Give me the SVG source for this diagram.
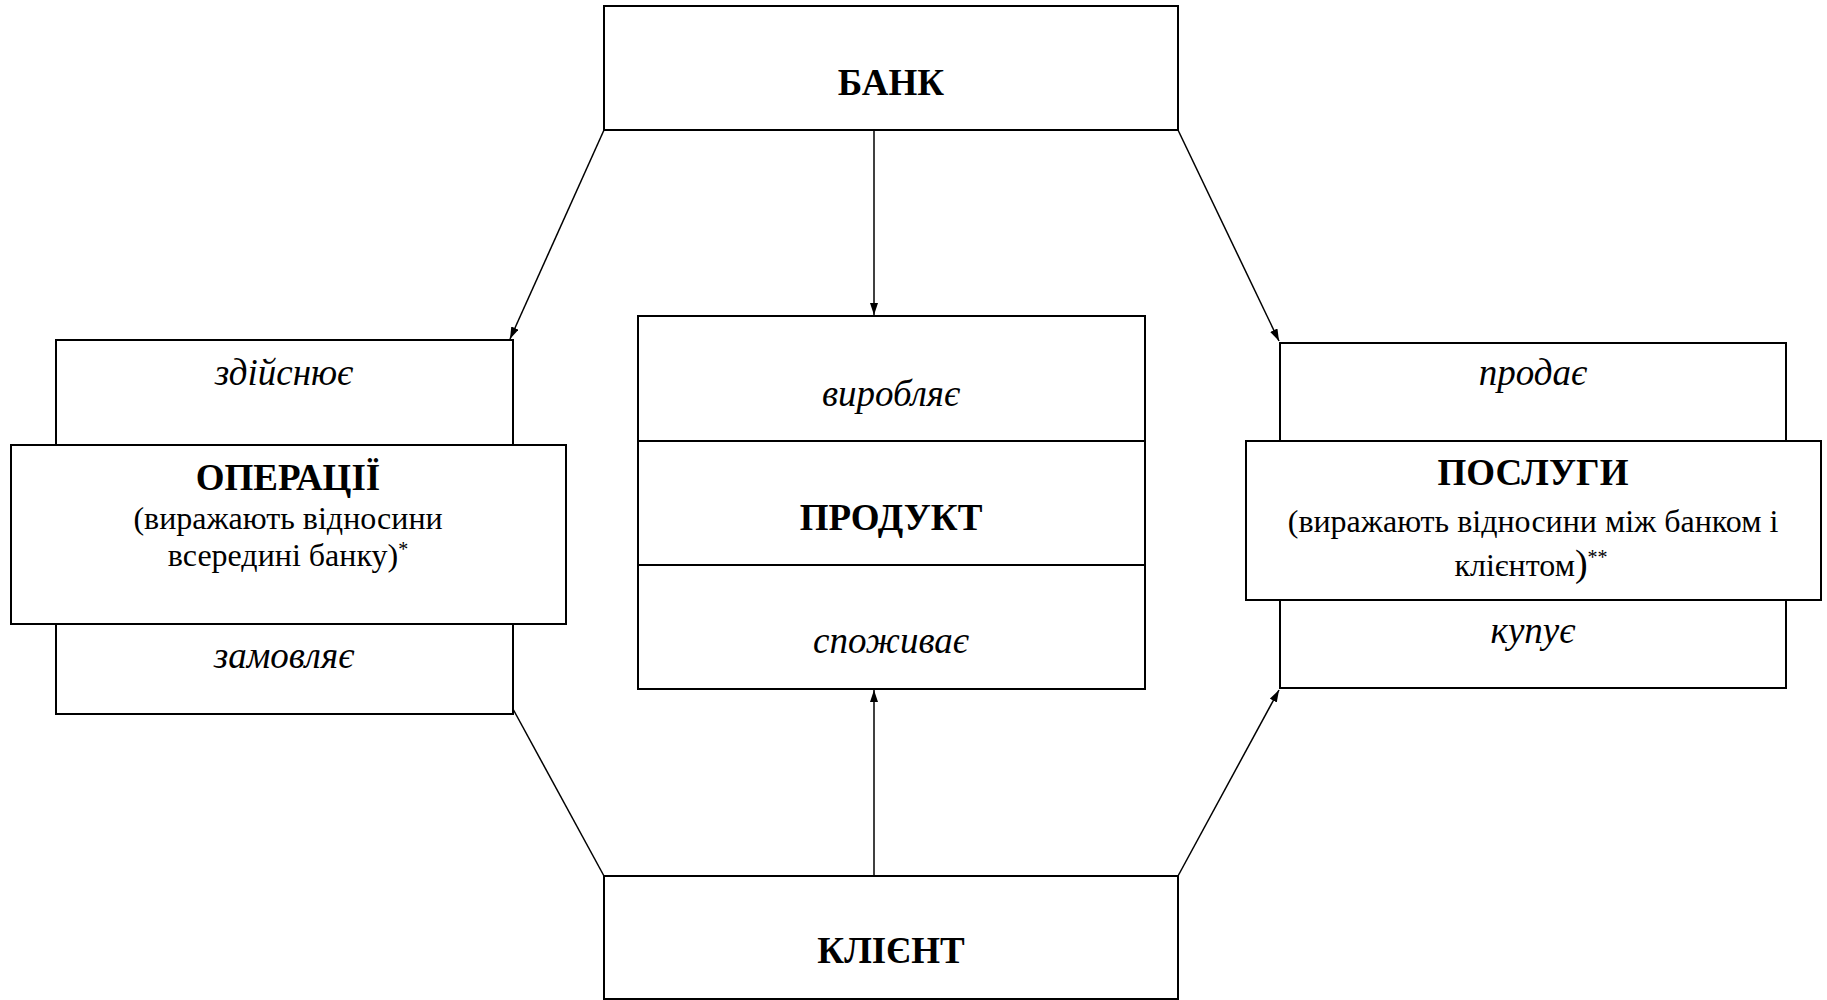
<svg xmlns="http://www.w3.org/2000/svg" width="1827" height="1000" viewBox="0 0 1827 1000">
<style>
.box{fill:#fff;stroke:#000;stroke-width:2}
.ln{fill:none;stroke:#000;stroke-width:1.5}
text{font-family:"Liberation Serif","DejaVu Serif",serif;fill:#000;text-anchor:middle}
.b{font-weight:bold;font-size:37px}
.i{font-style:italic;font-size:37px}
.d{font-size:32px}
.sup{font-size:20px}
</style>
<defs>
<marker id="ah" viewBox="0 0 12 8" refX="12" refY="4" markerWidth="12" markerHeight="8" markerUnits="userSpaceOnUse" orient="auto">
<path d="M0,0 L12,4 L0,8 z" fill="#000"/>
</marker>
</defs>
<rect width="1827" height="1000" fill="#fff"/>
<g id="connectors">
<line class="ln" x1="874" y1="130" x2="874" y2="315" marker-end="url(#ah)"/>
<line class="ln" x1="874" y1="876" x2="874" y2="690" marker-end="url(#ah)"/>
<line class="ln" x1="604" y1="130" x2="510" y2="339" marker-end="url(#ah)"/>
<line class="ln" x1="1178" y1="130" x2="1279" y2="341" marker-end="url(#ah)"/>
<line class="ln" x1="513" y1="709" x2="604" y2="876"/>
<line class="ln" x1="1178" y1="876" x2="1279" y2="690" marker-end="url(#ah)"/>
</g>
<g id="bank">
<rect class="box" x="604" y="6" width="574" height="124"/>
<text class="b" x="891" y="95">БАНК</text>
</g>
<g id="client">
<rect class="box" x="604" y="876" width="574" height="123"/>
<text class="b" x="891" y="963">КЛІЄНТ</text>
</g>
<g id="product">
<rect class="box" x="638" y="316" width="507" height="373"/>
<line class="box" x1="638" y1="441" x2="1145" y2="441"/>
<line class="box" x1="638" y1="565" x2="1145" y2="565"/>
<text class="i" x="891" y="406">виробляє</text>
<text class="b" x="891" y="530">ПРОДУКТ</text>
<text class="i" x="891" y="653">споживає</text>
</g>
<g id="operations">
<rect class="box" x="56" y="340" width="457" height="374"/>
<text class="i" x="284" y="385">здійснює</text>
<text class="i" x="284" y="668">замовляє</text>
<rect class="box" x="11" y="445" width="555" height="179"/>
<text class="b" x="288" y="490">ОПЕРАЦІЇ</text>
<text class="d" x="288" y="529">(виражають відносини</text>
<text class="d" x="288" y="566">всередині банку)<tspan class="sup" dy="-10">*</tspan></text>
</g>
<g id="services">
<rect class="box" x="1280" y="343" width="506" height="345"/>
<text class="i" x="1533" y="385">продає</text>
<text class="i" x="1533" y="643">купує</text>
<rect class="box" x="1246" y="441" width="575" height="159"/>
<text class="b" x="1533" y="485">ПОСЛУГИ</text>
<text class="d" x="1533" y="532">(виражають відносини між банком і</text>
<text class="d" x="1531" y="576">клієнтом<tspan font-size="38">)</tspan><tspan class="sup" dy="-12">**</tspan></text>
</g>
</svg>
